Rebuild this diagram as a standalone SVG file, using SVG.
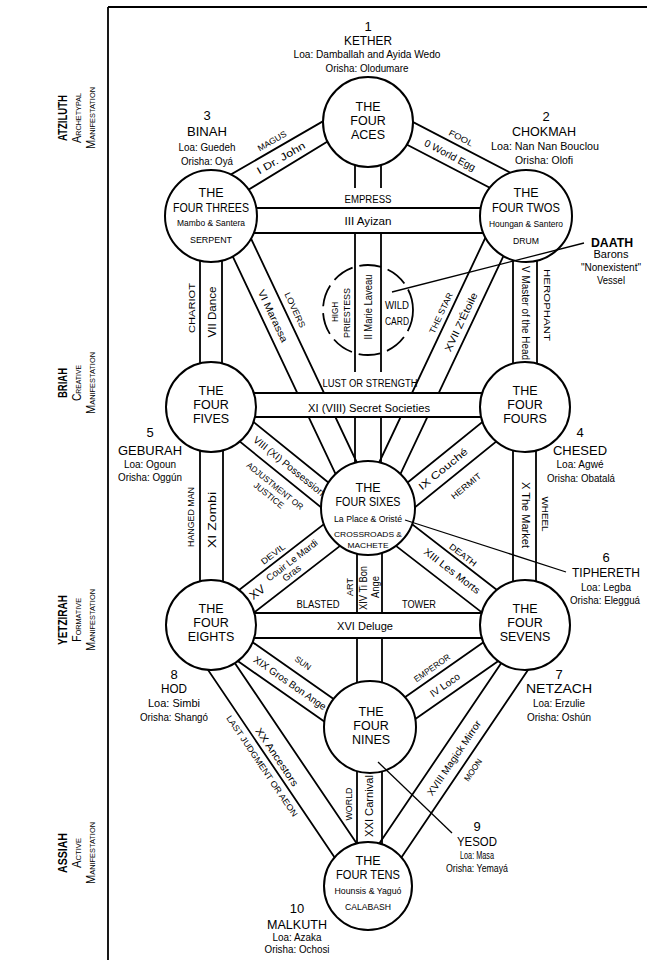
<svg xmlns="http://www.w3.org/2000/svg" width="647" height="966" viewBox="0 0 647 966">
<style>
text{font-family:"Liberation Sans",Arial,Helvetica,sans-serif;fill:#000;text-anchor:middle}
.ln{stroke:#000;stroke-width:1.8;fill:none}
.cir{fill:#fff;stroke:#000;stroke-width:2}
.dash{fill:none;stroke:#000;stroke-width:1.8;stroke-dasharray:22 7}
.wh{fill:#fff;stroke:none}
.big{font-size:12.5px}
.sub{font-size:9px}
.nm{font-size:13.5px}
.num{font-size:13px}
.loa{font-size:10.5px}
.pl{font-size:10px}
.tl{font-size:8.5px}
.side{font-size:13px;font-weight:bold}
.sc{font-size:12px;font-variant:small-caps}
.ptr{stroke:#000;stroke-width:1.3;fill:none}
</style>
<rect width="647" height="966" fill="#fff"/>
<g id="frame" class="ln"><path d="M108 7H647M108 7V960"/></g>

<g id="worlds">
 <g transform="translate(62,118) rotate(-90)"><text class="side" dy=".35em" textLength="46" lengthAdjust="spacingAndGlyphs">ATZILUTH</text></g>
 <g transform="translate(77,118) rotate(-90)"><text class="sc" dy=".35em" textLength="50" lengthAdjust="spacingAndGlyphs">Archetypal</text></g>
 <g transform="translate(91,118) rotate(-90)"><text class="sc" dy=".35em" textLength="62" lengthAdjust="spacingAndGlyphs">Manifestation</text></g>
 <g transform="translate(62,383) rotate(-90)"><text class="side" dy=".35em" textLength="30" lengthAdjust="spacingAndGlyphs">BRIAH</text></g>
 <g transform="translate(77,383) rotate(-90)"><text class="sc" dy=".35em" textLength="36" lengthAdjust="spacingAndGlyphs">Creative</text></g>
 <g transform="translate(91,383) rotate(-90)"><text class="sc" dy=".35em" textLength="62" lengthAdjust="spacingAndGlyphs">Manifestation</text></g>
 <g transform="translate(62,620) rotate(-90)"><text class="side" dy=".35em" textLength="50" lengthAdjust="spacingAndGlyphs">YETZIRAH</text></g>
 <g transform="translate(77,620) rotate(-90)"><text class="sc" dy=".35em" textLength="44" lengthAdjust="spacingAndGlyphs">Formative</text></g>
 <g transform="translate(91,620) rotate(-90)"><text class="sc" dy=".35em" textLength="62" lengthAdjust="spacingAndGlyphs">Manifestation</text></g>
 <g transform="translate(62,853) rotate(-90)"><text class="side" dy=".35em" textLength="40" lengthAdjust="spacingAndGlyphs">ASSIAH</text></g>
 <g transform="translate(77,853) rotate(-90)"><text class="sc" dy=".35em" textLength="30" lengthAdjust="spacingAndGlyphs">Active</text></g>
 <g transform="translate(91,853) rotate(-90)"><text class="sc" dy=".35em" textLength="62" lengthAdjust="spacingAndGlyphs">Manifestation</text></g>
</g>

<g id="connectors">
 <g class="ln">
  <path d="M212 185.4L347 107.4M231.6 200L354.6 125"/>
  <path d="M380 104.9L540 188.1M385 133.3L530 208.7"/>
  <path d="M355 140V490M381 140V490"/>
  <path d="M216 221L354 513M238 211L376 503"/>
  <path d="M520 221L382 513M498 211L360 503"/>
  <path d="M200 240V385M222 240V385"/>
  <path d="M513 240V385M537 240V385"/>
  <path d="M218 393.2L350 500M205 413.4L345 526.7"/>
  <path d="M518 393.2L386 500M531 413.4L391 526.7"/>
  <path d="M200 430V600M223 430V600"/>
  <path d="M513 430V600M536 430V600"/>
  <path d="M230 597L345 507.9M240 623.4L352 536.6"/>
  <path d="M506 597L391 507.9M496 623.4L384 536.6"/>
  <path d="M357 530V700M382 530V700"/>
  <path d="M225 622.9L355 713.9M225 652.1L345 736.1"/>
  <path d="M511 622.9L381 713.9M511 652.1L391 736.1"/>
  <path d="M191.2 645.1L341.4 867.4M212.8 630.5L363 852.8"/>
  <path d="M544.8 645.1L394.6 867.4M523.2 630.5L373 852.8"/>
  <path d="M357 760V860M382 760V860"/>
 </g>
 <g class="wh">
  <rect x="348" y="188" width="40" height="44"/>
  <rect x="348" y="372" width="40" height="22"/>
  <rect x="288" y="394" width="160" height="22"/>
  <rect x="350" y="614" width="40" height="23"/>
 </g>
 <g class="ln">
  <path d="M230 208H505M230 233H505"/>
  <path d="M230 393H505M230 417H505"/>
  <path d="M230 613H505M230 638H505"/>
 </g>
 <circle id="daath-circle" class="dash" cx="368" cy="310" r="45"/>

 <g transform="translate(272,141) rotate(-30)"><text class="tl" dy=".35em" textLength="32" lengthAdjust="spacingAndGlyphs">MAGUS</text></g>
 <g transform="translate(281,158) rotate(-30)"><text class="pl" dy=".35em" textLength="54" lengthAdjust="spacingAndGlyphs">I  Dr. John</text></g>
 <g transform="translate(461,138) rotate(27.5)"><text class="tl" dy=".35em" textLength="26" lengthAdjust="spacingAndGlyphs">FOOL</text></g>
 <g transform="translate(450,155) rotate(27.5)"><text class="pl" dy=".35em" textLength="56" lengthAdjust="spacingAndGlyphs">0  World Egg</text></g>
 <text class="pl" x="368" y="203" textLength="47" lengthAdjust="spacingAndGlyphs">EMPRESS</text>
 <text class="pl" x="368" y="225" textLength="47" lengthAdjust="spacingAndGlyphs">III  Ayizan</text>
 <g transform="translate(192,308) rotate(-90)"><text class="tl" dy=".35em" textLength="50" lengthAdjust="spacingAndGlyphs">CHARIOT</text></g>
 <g transform="translate(212,312) rotate(-90)"><text class="pl" dy=".35em" textLength="51" lengthAdjust="spacingAndGlyphs">VII  Dance</text></g>
 <g transform="translate(525,313) rotate(90)"><text class="pl" dy=".35em" textLength="94" lengthAdjust="spacingAndGlyphs">V  Master of the Head</text></g>
 <g transform="translate(547,305) rotate(90)"><text class="tl" dy=".35em" textLength="72" lengthAdjust="spacingAndGlyphs">HEROPHANT</text></g>
 <g transform="translate(335,312) rotate(-90)"><text class="tl" dy=".35em" textLength="20" lengthAdjust="spacingAndGlyphs">HIGH</text></g>
 <g transform="translate(347,313) rotate(-90)"><text class="tl" dy=".35em" textLength="50" lengthAdjust="spacingAndGlyphs">PRIESTESS</text></g>
 <g transform="translate(368,307) rotate(-90)"><text class="pl" dy=".35em" textLength="65" lengthAdjust="spacingAndGlyphs">II  Marie Laveau</text></g>
 <text class="pl" x="397" y="309" textLength="24" lengthAdjust="spacingAndGlyphs">WILD</text>
 <text class="pl" x="397" y="325" textLength="24" lengthAdjust="spacingAndGlyphs">CARD</text>
 <g transform="translate(295,310) rotate(64.7)"><text class="tl" dy=".35em" textLength="38" lengthAdjust="spacingAndGlyphs">LOVERS</text></g>
 <g transform="translate(273,316) rotate(64.7)"><text class="pl" dy=".35em" textLength="57" lengthAdjust="spacingAndGlyphs">VI  Marassa</text></g>
 <g transform="translate(441,313) rotate(-64.7)"><text class="tl" dy=".35em" textLength="44" lengthAdjust="spacingAndGlyphs">THE STAR</text></g>
 <g transform="translate(461,322) rotate(-64.7)"><text class="pl" dy=".35em" textLength="64" lengthAdjust="spacingAndGlyphs">XVII  Z'Étoile</text></g>
 <text class="pl" x="370" y="387" textLength="95" lengthAdjust="spacingAndGlyphs">LUST OR STRENGTH</text>
 <text class="pl" x="369" y="412" textLength="122" lengthAdjust="spacingAndGlyphs">XI (VIII)  Secret Societies</text>
 <g transform="translate(289,466) rotate(39)"><text class="pl" dy=".35em" textLength="88" lengthAdjust="spacingAndGlyphs">VIII (XI)  Possession</text></g>
 <g transform="translate(275,486) rotate(39)"><text class="tl" dy=".35em" textLength="70" lengthAdjust="spacingAndGlyphs">ADJUSTMENT OR</text><text class="tl" x="1" y="11" dy=".35em" textLength="36" lengthAdjust="spacingAndGlyphs">JUSTICE</text></g>
 <g transform="translate(443,469) rotate(-39)"><text class="pl" dy=".35em" textLength="60" lengthAdjust="spacingAndGlyphs">IX  Couché</text></g>
 <g transform="translate(466,486) rotate(-39)"><text class="tl" dy=".35em" textLength="36" lengthAdjust="spacingAndGlyphs">HERMIT</text></g>
 <g transform="translate(191,517) rotate(-90)"><text class="tl" dy=".35em" textLength="60" lengthAdjust="spacingAndGlyphs">HANGED MAN</text></g>
 <g transform="translate(212,520) rotate(-90)"><text class="pl" dy=".35em" textLength="56" lengthAdjust="spacingAndGlyphs">XI  Zombi</text></g>
 <g transform="translate(525,515) rotate(90)"><text class="pl" dy=".35em" textLength="66" lengthAdjust="spacingAndGlyphs">X  The Market</text></g>
 <g transform="translate(545,514) rotate(90)"><text class="tl" dy=".35em" textLength="35" lengthAdjust="spacingAndGlyphs">WHEEL</text></g>
 <g transform="translate(273,554) rotate(-37.5)"><text class="tl" dy=".35em" textLength="28" lengthAdjust="spacingAndGlyphs">DEVIL</text></g>
 <g transform="translate(285,571) rotate(-37.5)">
  <text x="-35" y="4" style="font-size:12px">XV</text>
  <text x="12" y="-1" style="font-size:9.5px" textLength="62" lengthAdjust="spacingAndGlyphs">Couir Le Mardi</text>
  <text x="4" y="9" style="font-size:9.5px">Gras</text>
 </g>
 <g transform="translate(463,555) rotate(37.5)"><text class="tl" dy=".35em" textLength="32" lengthAdjust="spacingAndGlyphs">DEATH</text></g>
 <g transform="translate(452,571) rotate(37.5)"><text class="pl" dy=".35em" textLength="68" lengthAdjust="spacingAndGlyphs">XIII  Les Morts</text></g>
 <g transform="translate(350,587) rotate(-90)"><text class="tl" dy=".35em" textLength="18" lengthAdjust="spacingAndGlyphs">ART</text></g>
 <g transform="translate(363,588) rotate(-90)"><text class="pl" dy=".35em" textLength="44" lengthAdjust="spacingAndGlyphs">XIV  Ti Bon</text></g>
 <g transform="translate(375,587) rotate(-90)"><text class="pl" dy=".35em" textLength="22" lengthAdjust="spacingAndGlyphs">Ange</text></g>
 <text class="pl" x="318" y="608" textLength="43" lengthAdjust="spacingAndGlyphs">BLASTED</text>
 <text class="pl" x="419" y="608" textLength="34" lengthAdjust="spacingAndGlyphs">TOWER</text>
 <text x="365" y="630" style="font-size:11px" textLength="56" lengthAdjust="spacingAndGlyphs">XVI  Deluge</text>
 <g transform="translate(303,663) rotate(35)"><text class="tl" dy=".35em" textLength="18" lengthAdjust="spacingAndGlyphs">SUN</text></g>
 <g transform="translate(290,683) rotate(35)"><text class="pl" dy=".35em" textLength="86" lengthAdjust="spacingAndGlyphs">XIX  Gros Bon Ange</text></g>
 <g transform="translate(432,668) rotate(-35)"><text class="tl" dy=".35em" textLength="42" lengthAdjust="spacingAndGlyphs">EMPEROR</text></g>
 <g transform="translate(445,685) rotate(-35)"><text class="pl" dy=".35em" textLength="34" lengthAdjust="spacingAndGlyphs">IV  Loco</text></g>
 <g transform="translate(262,766) rotate(56)"><text class="tl" dy=".35em" textLength="120" lengthAdjust="spacingAndGlyphs">LAST JUDGMENT OR AEON</text></g>
 <g transform="translate(277,757) rotate(56)"><text class="pl" dy=".35em" textLength="68" lengthAdjust="spacingAndGlyphs">XX  Ancestors</text></g>
 <g transform="translate(454,758) rotate(-56)"><text class="pl" dy=".35em" textLength="88" lengthAdjust="spacingAndGlyphs">XVIII  Magick Mirror</text></g>
 <g transform="translate(473,770) rotate(-56)"><text class="tl" dy=".35em" textLength="25" lengthAdjust="spacingAndGlyphs">MOON</text></g>
 <g transform="translate(349,804) rotate(-90)"><text class="tl" dy=".35em" textLength="33" lengthAdjust="spacingAndGlyphs">WORLD</text></g>
 <g transform="translate(369,806) rotate(-90)"><text class="pl" dy=".35em" textLength="62" lengthAdjust="spacingAndGlyphs">XXI  Carnival</text></g>
</g>

<g id="kether">
 <circle class="cir" cx="368" cy="122" r="45"/>
 <text class="big" x="368" y="111">THE</text>
 <text class="big" x="368" y="125">FOUR</text>
 <text class="big" x="368" y="139">ACES</text>
 <text class="num" x="368" y="31">1</text>
 <text class="nm" x="368" y="45" textLength="48" lengthAdjust="spacingAndGlyphs">KETHER</text>
 <text class="loa" x="367" y="58" textLength="147" lengthAdjust="spacingAndGlyphs">Loa: Damballah and Ayida Wedo</text>
 <text class="loa" x="367" y="72" textLength="83" lengthAdjust="spacingAndGlyphs">Orisha: Olodumare</text>
</g>
<g id="binah">
 <circle class="cir" cx="211" cy="216" r="46"/>
 <text class="big" x="211" y="197">THE</text>
 <text class="big" x="211" y="212" textLength="76" lengthAdjust="spacingAndGlyphs">FOUR THREES</text>
 <text class="sub" x="211" y="226" textLength="68" lengthAdjust="spacingAndGlyphs">Mambo &amp; Santera</text>
 <text class="sub" x="211" y="243" textLength="42" lengthAdjust="spacingAndGlyphs">SERPENT</text>
 <text class="num" x="207" y="120">3</text>
 <text class="nm" x="207" y="136" textLength="40" lengthAdjust="spacingAndGlyphs">BINAH</text>
 <text class="loa" x="207" y="151" textLength="57" lengthAdjust="spacingAndGlyphs">Loa: Guedeh</text>
 <text class="loa" x="207" y="165" textLength="52" lengthAdjust="spacingAndGlyphs">Orisha: Oyá</text>
</g>
<g id="chokmah">
 <circle class="cir" cx="526" cy="216" r="46"/>
 <text class="big" x="526" y="197">THE</text>
 <text class="big" x="526" y="212" textLength="68" lengthAdjust="spacingAndGlyphs">FOUR TWOS</text>
 <text class="sub" x="526" y="227" textLength="74" lengthAdjust="spacingAndGlyphs">Houngan &amp; Santero</text>
 <text class="sub" x="526" y="244" textLength="26" lengthAdjust="spacingAndGlyphs">DRUM</text>
 <text class="num" x="546" y="121">2</text>
 <text class="nm" x="544" y="136" textLength="64" lengthAdjust="spacingAndGlyphs">CHOKMAH</text>
 <text class="loa" x="545" y="150" textLength="108" lengthAdjust="spacingAndGlyphs">Loa: Nan Nan Bouclou</text>
 <text class="loa" x="544" y="164" textLength="58" lengthAdjust="spacingAndGlyphs">Orisha: Olofi</text>
</g>
<g id="geburah">
 <circle class="cir" cx="211" cy="407" r="45"/>
 <text class="big" x="211" y="395">THE</text>
 <text class="big" x="211" y="409">FOUR</text>
 <text class="big" x="211" y="423">FIVES</text>
 <text class="num" x="150" y="437">5</text>
 <text class="nm" x="150" y="455" textLength="64" lengthAdjust="spacingAndGlyphs">GEBURAH</text>
 <text class="loa" x="150" y="468" textLength="52" lengthAdjust="spacingAndGlyphs">Loa: Ogoun</text>
 <text class="loa" x="150" y="481" textLength="64" lengthAdjust="spacingAndGlyphs">Orisha: Oggún</text>
</g>
<g id="chesed">
 <circle class="cir" cx="525" cy="407" r="45"/>
 <text class="big" x="525" y="395">THE</text>
 <text class="big" x="525" y="409">FOUR</text>
 <text class="big" x="525" y="423">FOURS</text>
 <text class="num" x="580" y="437">4</text>
 <text class="nm" x="580" y="455" textLength="54" lengthAdjust="spacingAndGlyphs">CHESED</text>
 <text class="loa" x="580" y="468" textLength="47" lengthAdjust="spacingAndGlyphs">Loa: Agwé</text>
 <text class="loa" x="581" y="482" textLength="68" lengthAdjust="spacingAndGlyphs">Orisha: Obatalá</text>
</g>
<g id="tiphereth">
 <circle class="cir" cx="368" cy="508" r="47"/>
 <text class="big" x="368" y="492">THE</text>
 <text class="big" x="368" y="506" textLength="65" lengthAdjust="spacingAndGlyphs">FOUR SIXES</text>
 <text x="368" y="522" style="font-size:8.5px" textLength="68" lengthAdjust="spacingAndGlyphs">La Place &amp; Oristé</text>
 <text x="368" y="537" style="font-size:8px" textLength="68" lengthAdjust="spacingAndGlyphs">CROSSROADS &amp;</text>
 <text x="368" y="548" style="font-size:8px" textLength="41" lengthAdjust="spacingAndGlyphs">MACHETE</text>
 <text class="num" x="606" y="562">6</text>
 <text class="nm" x="606" y="577" textLength="68" lengthAdjust="spacingAndGlyphs">TIPHERETH</text>
 <text class="loa" x="606" y="591" textLength="50" lengthAdjust="spacingAndGlyphs">Loa: Legba</text>
 <text class="loa" x="605" y="604" textLength="70" lengthAdjust="spacingAndGlyphs">Orisha: Elegguá</text>
</g>
<g id="hod">
 <circle class="cir" cx="211" cy="625" r="45"/>
 <text class="big" x="211" y="613">THE</text>
 <text class="big" x="211" y="627">FOUR</text>
 <text class="big" x="211" y="641">EIGHTS</text>
 <text class="num" x="174" y="679">8</text>
 <text class="nm" x="174" y="693" textLength="26" lengthAdjust="spacingAndGlyphs">HOD</text>
 <text class="loa" x="174" y="707" textLength="52" lengthAdjust="spacingAndGlyphs">Loa: Simbi</text>
 <text class="loa" x="174" y="721" textLength="68" lengthAdjust="spacingAndGlyphs">Orisha: Shangó</text>
</g>
<g id="netzach">
 <circle class="cir" cx="525" cy="625" r="45"/>
 <text class="big" x="525" y="613">THE</text>
 <text class="big" x="525" y="627">FOUR</text>
 <text class="big" x="525" y="641">SEVENS</text>
 <text class="num" x="559" y="679">7</text>
 <text class="nm" x="559" y="693" textLength="66" lengthAdjust="spacingAndGlyphs">NETZACH</text>
 <text class="loa" x="559" y="707" textLength="52" lengthAdjust="spacingAndGlyphs">Loa: Erzulie</text>
 <text class="loa" x="559" y="721" textLength="64" lengthAdjust="spacingAndGlyphs">Orisha: Oshún</text>
</g>
<g id="yesod">
 <circle class="cir" cx="370" cy="727" r="46"/>
 <text class="big" x="371" y="716">THE</text>
 <text class="big" x="371" y="730">FOUR</text>
 <text class="big" x="371" y="744">NINES</text>
 <text class="num" x="477" y="831">9</text>
 <text class="nm" x="477" y="846" textLength="40" lengthAdjust="spacingAndGlyphs">YESOD</text>
 <text class="loa" x="477" y="859" textLength="34" lengthAdjust="spacingAndGlyphs">Loa: Masa</text>
 <text class="loa" x="477" y="872" textLength="62" lengthAdjust="spacingAndGlyphs">Orisha: Yemayá</text>
</g>
<g id="malkuth">
 <circle class="cir" cx="368" cy="886" r="44"/>
 <text class="big" x="368" y="865">THE</text>
 <text class="big" x="368" y="879" textLength="64" lengthAdjust="spacingAndGlyphs">FOUR TENS</text>
 <text class="sub" x="368" y="894" textLength="67" lengthAdjust="spacingAndGlyphs">Hounsis &amp; Yaguó</text>
 <text class="sub" x="368" y="910" textLength="46" lengthAdjust="spacingAndGlyphs">CALABASH</text>
 <text class="num" x="297" y="913">10</text>
 <text class="nm" x="297" y="929" textLength="60" lengthAdjust="spacingAndGlyphs">MALKUTH</text>
 <text class="loa" x="297" y="941" textLength="49" lengthAdjust="spacingAndGlyphs">Loa: Azaka</text>
 <text class="loa" x="297" y="953" textLength="65" lengthAdjust="spacingAndGlyphs">Orisha: Ochosi</text>
</g>
<g id="daath">
 <text x="612" y="247" style="font-size:13px;font-weight:bold" textLength="42" lengthAdjust="spacingAndGlyphs">DAATH</text>
 <text x="611" y="258" style="font-size:10px" textLength="35" lengthAdjust="spacingAndGlyphs">Barons</text>
 <text x="611" y="271" style="font-size:10px" textLength="60" lengthAdjust="spacingAndGlyphs">"Nonexistent"</text>
 <text x="611" y="284" style="font-size:10px" textLength="28" lengthAdjust="spacingAndGlyphs">Vessel</text>
</g>
<g id="pointers" class="ptr">
 <path d="M584 243L392 292"/>
 <path d="M405 520L566 572"/>
 <path d="M378 762L452 833"/>
</g>
</svg>
